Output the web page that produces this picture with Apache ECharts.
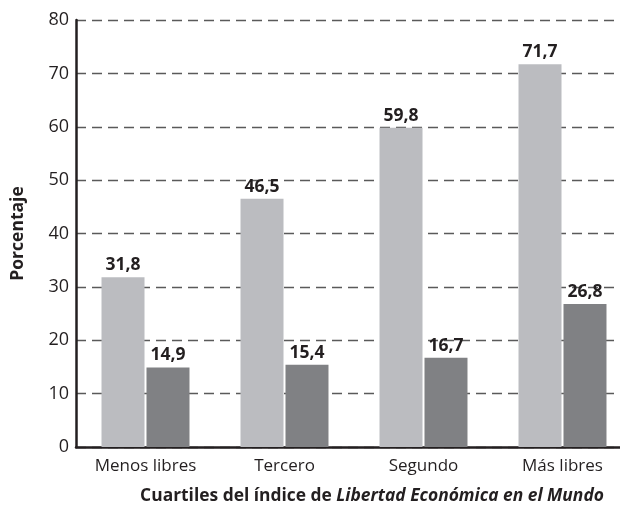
<!DOCTYPE html>
<html>
<head>
<meta charset="utf-8">
<script src="https://cdn.jsdelivr.net/npm/echarts@6/dist/echarts.min.js"></script>
<style>
  html, body { margin: 0; padding: 0; background: #fff; }
  #chart { width: 620px; height: 511px; }
</style>
</head>
<body>
<div id="chart"></div>
<script>
const categories = ['Menos libres', 'Tercero', 'Segundo', 'Más libres'];
const seriesA = [31.8, 46.5, 59.8, 71.7];
const seriesB = [14.9, 15.4, 16.7, 26.8];

const textColor = '#231f20';
const fontFamily = '"Open Sans", "Noto Sans", sans-serif';

const chart = echarts.init(document.getElementById('chart'));

const labelOpt = {
    show: true,
    position: 'top',
    distance: 3,
    color: textColor,
    fontFamily: fontFamily,
    fontWeight: 'bold',
    fontSize: 17.5,
    formatter: p => String(p.value).replace('.', ',')
};

chart.setOption({
    animation: false,
    grid: { left: 76, top: 20, bottom: 64, width: 556, outerBoundsMode: 'none' },
    xAxis: {
        type: 'category',
        data: categories,
        axisLine: { lineStyle: { color: textColor, width: 2.5 } },
        axisTick: { show: false },
        axisLabel: { color: textColor, fontFamily: fontFamily, fontSize: 17, margin: 11 },
        name: '{b|Cuartiles del índice de }{i|Libertad Económica en el Mundo}',
        nameLocation: 'middle',
        nameGap: 41,
        nameTextStyle: {
            padding: [0, 0, 0, 36],
            rich: {
                b: { color: textColor, fontFamily: fontFamily, fontWeight: 'bold', fontSize: 17.4 },
                i: { color: textColor, fontFamily: fontFamily, fontWeight: 'bold', fontStyle: 'italic', fontSize: 17.4 }
            }
        }
    },
    yAxis: {
        type: 'value',
        min: 0,
        max: 80,
        interval: 10,
        name: 'Porcentaje',
        nameLocation: 'middle',
        nameGap: 49,
        nameTextStyle: { color: textColor, fontFamily: fontFamily, fontWeight: 'bold', fontSize: 17.5 },
        axisLine: { show: true, lineStyle: { color: textColor, width: 2.5 } },
        axisTick: { show: false },
        axisLabel: { color: textColor, fontFamily: fontFamily, fontSize: 18, margin: 7 },
        splitLine: { lineStyle: { color: '#5a5a5a', width: 1.3, type: [10, 6] } }
    },
    series: [
        {
            type: 'bar',
            data: seriesA,
            barWidth: 43,
            barGap: '4.6%',
            itemStyle: { color: '#bbbcc0' },
            label: labelOpt
        },
        {
            type: 'bar',
            data: seriesB,
            barWidth: 43,
            itemStyle: { color: '#808184' },
            label: labelOpt
        }
    ]
});
</script>
</body>
</html>
